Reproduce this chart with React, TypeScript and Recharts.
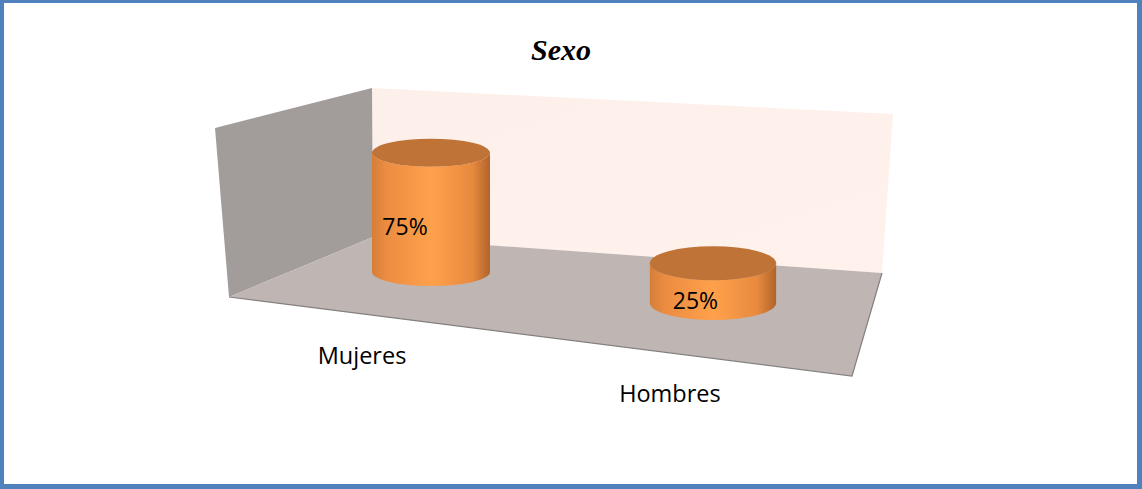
import { Bar, BarChart, Customized, LabelList, XAxis, YAxis } from "recharts";

const categories = ["Mujeres", "Hombres"];
const shares = [0.75, 0.25];
const shareLabels = ["75%", "25%"];

const data = categories.map((name, i) => ({ name, share: shares[i], label: shareLabels[i] }));

const W = 1142;
const H = 489;
const FONT = "'Open Sans', 'Noto Sans', sans-serif";

// fake 3d: things further right sit a bit lower and closer
const ORIGIN_X = 431;
const DEPTH_SLOPE = 0.11;
const depth = (cx: number) => (cx - ORIGIN_X) * DEPTH_SLOPE;
const grow = (cx: number) => 1 + (cx - ORIGIN_X) * 0.00025;
const ellipseRy = (cx: number) => 14 + (cx - ORIGIN_X) * 0.011;

function Backdrop() {
  return (
    <g>
      <defs>
        <linearGradient id="backWall" x1="0" y1="0" x2="1" y2="1">
          <stop offset="0%" stopColor="#fdefe9" />
          <stop offset="100%" stopColor="#fff1ec" />
        </linearGradient>
      </defs>
      <polygon points="372,88 893,114 882,273 373,237" fill="url(#backWall)" />
      <polygon points="215,128 372,88 373,237 229,297" fill="#a29c9a" />
      <polygon points="229,297 373,237 882,273 852,376" fill="#bfb6b3" />
      <polyline points="229,297 852,376 882,273" fill="none" stroke="#858080" strokeWidth={1.2} />
      <text x={561} y={60} textAnchor="middle" fontFamily="'Liberation Serif', 'DejaVu Serif', serif"
        fontStyle="italic" fontWeight="bold" fontSize={30} fill="#000">
        Sexo
      </text>
    </g>
  );
}

function Cylinder(props: any) {
  const { x, y, width, height, index } = props;
  const cx = x + width / 2;
  const s = depth(cx);
  const rx = (width / 2) * grow(cx);
  const ry = ellipseRy(cx);
  const top = y + s;
  const bottom = y + height + s;
  const id = `cyl-${index}`;
  return (
    <g>
      <defs>
        <linearGradient id={id} x1="0" y1="0" x2="1" y2="0">
          <stop offset="0%" stopColor="#d57e38" />
          <stop offset="12%" stopColor="#eb8c41" />
          <stop offset="50%" stopColor="#ffa14b" />
          <stop offset="85%" stopColor="#e88a3e" />
          <stop offset="100%" stopColor="#b0642c" />
        </linearGradient>
      </defs>
      <path
        d={`M${cx - rx},${top} L${cx - rx},${bottom} A${rx},${ry} 0 0 0 ${cx + rx},${bottom} L${cx + rx},${top} A${rx},${ry} 0 0 1 ${cx - rx},${top} Z`}
        fill={`url(#${id})`}
      />
      <ellipse cx={cx} cy={top} rx={rx} ry={ry} fill="#bf7336" />
    </g>
  );
}

function ShareLabel(props: any) {
  const { x, y, width, height, value } = props;
  const cx = x + width / 2;
  const s = depth(cx);
  const mid = y + height / 2 + s + ellipseRy(cx);
  const lx = cx - 26 + (cx - ORIGIN_X) * 0.03;
  return (
    <text x={lx} y={mid} textAnchor="middle" dominantBaseline="central" fontFamily={FONT} fontSize={23} fill="#000">
      {value}
    </text>
  );
}

function CategoryTick(props: any) {
  const { x, payload } = props;
  const lx = x - 69 + (x - ORIGIN_X) * 0.092;
  const ly = 355 + (x - ORIGIN_X) * 0.135;
  return (
    <text x={lx} y={ly} textAnchor="middle" dominantBaseline="central" fontFamily={FONT} fontSize={23.5} fill="#000">
      {payload.value}
    </text>
  );
}

export default function App() {
  return (
    <div style={{ position: "absolute", left: 0, top: 0, width: W, height: H, background: "#fff" }}>
      <BarChart width={W} height={H} data={data} margin={{ top: 113, right: 288, bottom: 187, left: 290 }}>
        <Customized component={<Backdrop />} />
        <XAxis dataKey="name" axisLine={false} tickLine={false} height={30} interval={0} tick={<CategoryTick />} />
        <YAxis hide domain={[0, 1]} />
        <Bar dataKey="share" barSize={118} shape={<Cylinder />} isAnimationActive={false}>
          <LabelList dataKey="label" content={<ShareLabel />} />
        </Bar>
      </BarChart>
      <div
        style={{
          position: "absolute",
          inset: 0,
          boxSizing: "border-box",
          borderStyle: "solid",
          borderColor: "#4f81bd",
          borderWidth: "3px 5px 5px 4px",
          pointerEvents: "none",
        }}
      />
    </div>
  );
}
